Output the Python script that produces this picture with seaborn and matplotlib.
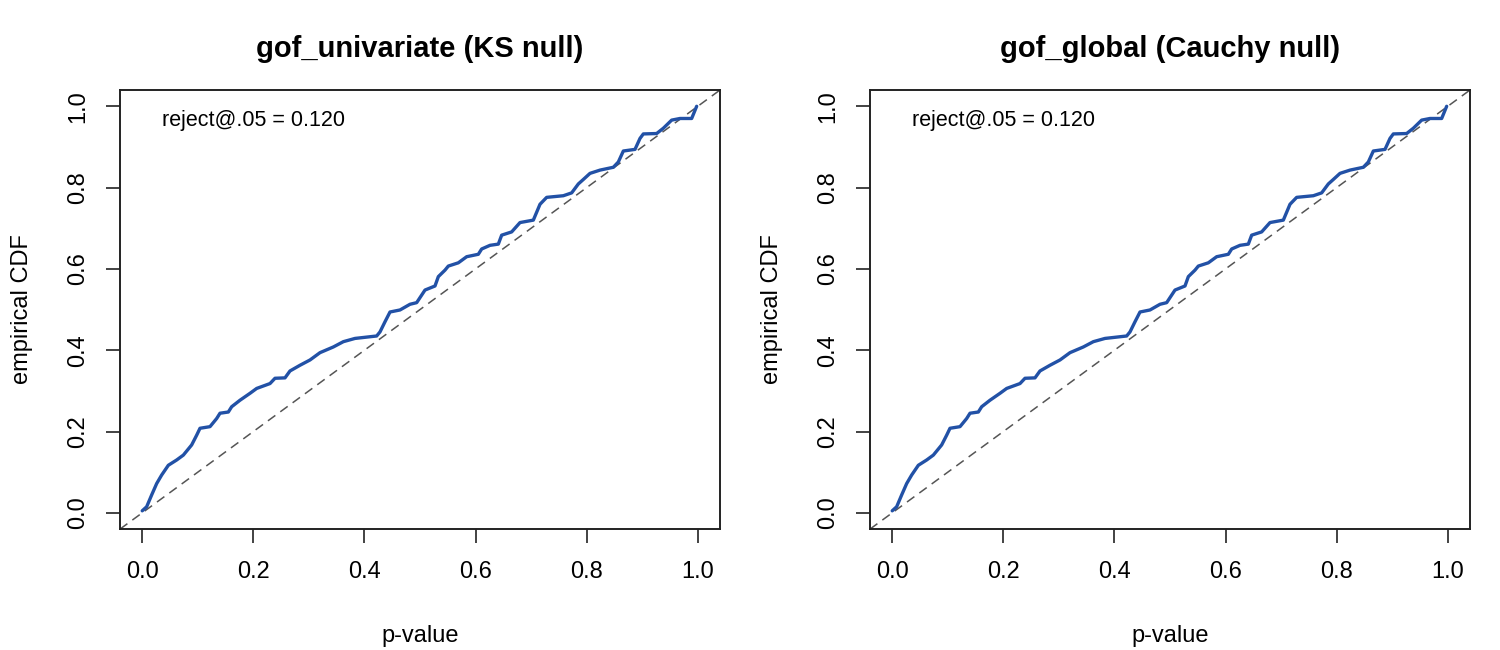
import numpy as np
import pandas as pd
import seaborn as sns
import matplotlib
matplotlib.use("Agg")
import matplotlib.pyplot as plt

# ECDF of the p-values (knots of the staircase)
p_values = [0.000, 0.008, 0.017, 0.026, 0.035, 0.047, 0.062, 0.074, 0.089, 0.098,
            0.104, 0.122, 0.134, 0.140, 0.155, 0.161, 0.176, 0.194, 0.206, 0.230,
            0.239, 0.257, 0.266, 0.284, 0.302, 0.320, 0.344, 0.362, 0.383, 0.422,
            0.428, 0.437, 0.446, 0.464, 0.482, 0.494, 0.509, 0.527, 0.533, 0.545,
            0.551, 0.569, 0.584, 0.605, 0.611, 0.626, 0.641, 0.647, 0.665, 0.680,
            0.704, 0.716, 0.728, 0.758, 0.773, 0.785, 0.794, 0.806, 0.824, 0.848,
            0.857, 0.866, 0.887, 0.896, 0.902, 0.926, 0.938, 0.953, 0.968, 0.989,
            0.998]
ecdf_univariate = [0.005, 0.015, 0.044, 0.072, 0.093, 0.117, 0.130, 0.142, 0.167, 0.191,
                   0.208, 0.212, 0.232, 0.245, 0.248, 0.261, 0.277, 0.294, 0.306, 0.318,
                   0.331, 0.332, 0.349, 0.363, 0.376, 0.394, 0.408, 0.421, 0.429, 0.435,
                   0.445, 0.470, 0.494, 0.499, 0.513, 0.517, 0.548, 0.558, 0.581, 0.597,
                   0.607, 0.615, 0.630, 0.636, 0.649, 0.658, 0.661, 0.683, 0.691, 0.714,
                   0.720, 0.759, 0.776, 0.780, 0.787, 0.809, 0.820, 0.835, 0.843, 0.850,
                   0.863, 0.890, 0.894, 0.921, 0.932, 0.933, 0.946, 0.966, 0.970, 0.970,
                   1.000]
ecdf_global = list(ecdf_univariate)  # identical in the reference

titles = ["gof_univariate (KS null)", "gof_global (Cauchy null)"]
reject_rates = [0.120, 0.120]
ticks = [0.0, 0.2, 0.4, 0.6, 0.8, 1.0]

sns.set_style("white")
plt.rcParams["font.family"] = ["Liberation Sans", "DejaVu Sans"]
plt.rcParams["text.color"] = "black"
plt.rcParams["axes.labelcolor"] = "black"
plt.rcParams["xtick.color"] = "black"
plt.rcParams["ytick.color"] = "black"

fig = plt.figure(figsize=(15, 6.5), dpi=100)
ax1 = fig.add_axes([0.08, 0.186, 0.40, 0.6755])
ax2 = fig.add_axes([0.58, 0.186, 0.40, 0.6755])

line_col = "#2251A6"
for ax, title, ecdf, rate in zip([ax1, ax2], titles, [ecdf_univariate, ecdf_global], reject_rates):
    df = pd.DataFrame({"p": p_values, "F": ecdf})
    ax.axline((0, 0), slope=1, color="#555555", lw=1.1, ls=(0, (6, 4)), zorder=1)
    sns.lineplot(data=df, x="p", y="F", ax=ax, color=line_col, lw=2.4,
                 sort=False, estimator=None, zorder=2)
    ax.set_xlim(-0.04, 1.04)
    ax.set_ylim(-0.04, 1.04)
    ax.set_xticks(ticks)
    ax.set_yticks(ticks)
    ax.set_xticklabels([f"{t:.1f}" for t in ticks])
    ax.set_yticklabels([f"{t:.1f}" for t in ticks], rotation=90, va="center")
    ax.tick_params(axis="both", direction="out", length=10, width=1.2,
                   labelsize=17, color="#222222", pad=13, left=True, bottom=True)
    ax.tick_params(axis="y", pad=12)
    for s in ax.spines.values():
        s.set_color("#222222")
        s.set_linewidth(1.4)
    ax.set_xlabel("p-value", fontsize=17, labelpad=30)
    ax.set_ylabel("empirical CDF", fontsize=17, labelpad=25)
    ax.set_title(title, fontsize=21, fontweight="bold", pad=24)
    ax.text(0.035, 0.966, f"reject@.05 = {rate:.3f}", fontsize=15.5, va="center", ha="left")

plt.savefig("out.png", dpi=100)
